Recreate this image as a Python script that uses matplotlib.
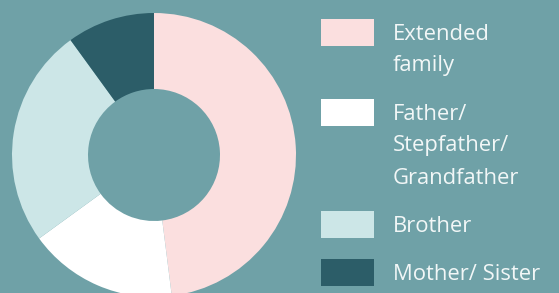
import matplotlib.pyplot as plt
from matplotlib.patches import Rectangle

# share of each group, going clockwise from the top
labels = ['Extended\nfamily', 'Father/\nStepfather/\nGrandfather', 'Brother', 'Mother/ Sister']
shares = [48, 17, 25, 10]
colors = ['#fbdfdf', '#ffffff', '#cce6e7', '#2c5d68']
bg = '#6fa1a7'

W, H = 559, 293
fig = plt.figure(figsize=(W / 100, H / 100), dpi=100, facecolor=bg)

# donut: center (154,155) px, radius 142 px
cx, cy, r = 154, 155, 142
ax = fig.add_axes([(cx - r) / W, (H - cy - r) / H, 2 * r / W, 2 * r / H])
ax.pie(shares, colors=colors, startangle=90, counterclock=False, radius=1,
       wedgeprops=dict(width=1 - 66 / 142, linewidth=0))
ax.set_xlim(-1, 1)
ax.set_ylim(-1, 1)
ax.set_aspect('equal')
ax.axis('off')

# legend drawn by hand
top = 19
for lab, col in zip(labels, colors):
    lines = lab.split('\n')
    fig.patches.append(Rectangle((321 / W, 1 - (top + 27) / H), 53 / W, 27 / H,
                                 transform=fig.transFigure, facecolor=col,
                                 edgecolor='none'))
    for i, ln in enumerate(lines):
        yc = top + 15 + i * 32
        fig.text(393 / W, 1 - yc / H, ln, color='#f2f7f7', fontsize=15.8,
                 family='Open Sans', va='center', ha='left')
    top += len(lines) * 32 + 16

fig.savefig('out.png', dpi=100, facecolor=bg)
